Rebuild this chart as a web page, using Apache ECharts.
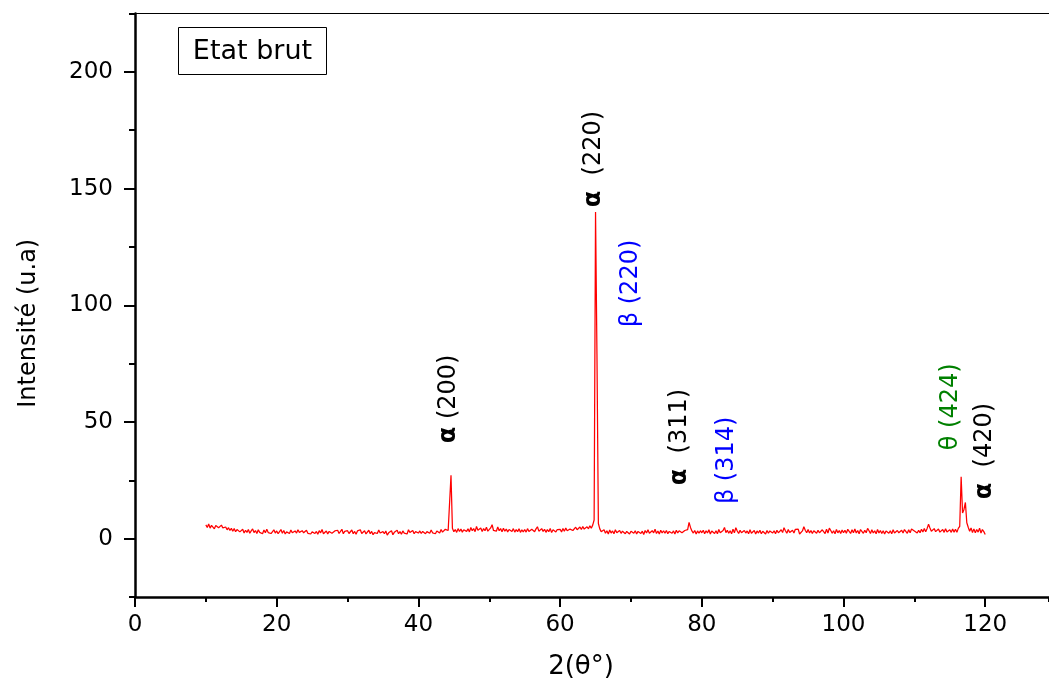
<!DOCTYPE html>
<html>
<head>
<meta charset="utf-8">
<title>Etat brut - DRX</title>
<script src="https://cdn.jsdelivr.net/npm/echarts@6/dist/echarts.min.js"></script>
<style>
  html, body { margin: 0; padding: 0; background: #ffffff; }
  #chart { width: 1049px; height: 686px; }
</style>
</head>
<body>
<div id="chart"></div>
<script>
// Diffractogram, 2θ from 10° to 120° in 0.2° steps; each row covers 5°.
const scanStart = 10;
const scanStep = 0.2;
const intensityRows = [
  [5.9,4.8,6.3,4.5,5.7,5.0,4.2,5.6,6.1,4.7,4.3,5.8,4.6,4.0,5.0,3.8,4.7,3.5,4.4,3.2,4.3,3.0,3.9,4.1,2.9],
  [3.2,4.0,2.4,3.6,2.7,3.9,2.3,3.3,4.2,2.6,3.5,2.2,3.8,2.7,3.2,2.1,3.7,2.5,4.0,2.6,3.4,2.2,3.0,3.8,2.4],
  [3.3,2.1,3.0,3.9,2.3,3.5,2.0,2.9,3.4,2.2,3.7,2.5,1.9,3.3,2.4,3.8,2.7,2.1,3.4,2.5,2.2,3.6,2.3,3.1,2.0],
  [2.9,3.7,2.2,3.1,1.9,3.4,2.5,3.9,2.1,2.9,3.3,2.0,3.1,3.8,2.3,1.9,3.3,2.5,3.6,2.2,3.0,4.0,2.1,3.1,2.3],
  [3.4,2.2,2.9,3.7,2.1,3.1,1.9,3.3,2.5,3.8,2.2,3.0,3.4,2.0,2.4,3.6,2.1,3.1,1.7,2.6,3.3,2.2,3.7,2.4,1.9],
  [3.0,2.1,3.3,1.5,2.5,2.0,3.4,1.7,2.7,2.2,3.6,2.1,3.0,1.9,3.3,2.4,3.2,2.0,3.8,2.6,2.2,3.5,2.1,3.0,3.7],
  [2.4,3.3,2.2,3.1,3.6,2.1,3.0,3.5,2.3,3.7,2.5,3.2,2.1,3.3,3.6,2.4,3.9,2.8,3.4,4.0,4.3,3.5,4.0,27.2,4.5],
  [3.0,3.9,2.7,4.3,3.1,4.1,2.8,3.8,4.5,3.1,4.2,2.9,4.8,3.4,4.3,3.0,5.2,3.6,3.3,4.6,3.1,4.3,3.4,4.9,3.2],
  [3.9,4.6,6.0,3.5,4.3,3.2,5.0,3.4,4.3,3.0,4.5,3.2,4.1,2.9,3.9,4.7,3.1,4.3,2.8,3.9,3.0,4.2,2.7,3.8,2.9],
  [3.9,2.8,4.3,3.1,2.7,4.0,4.6,3.0,4.2,5.1,3.2,2.9,4.3,3.1,4.0,2.7,3.9,3.0,4.4,2.6,3.8,4.2,2.9,3.9,3.1],
  [4.0,2.9,4.3,3.2,4.6,3.4,3.0,4.1,4.7,3.5,4.3,4.9,3.8,4.2,5.0,3.9,5.2,4.1,4.4,5.1,4.2,5.5,4.5,5.8,8.0],
  [140.0,79.0,6.5,4.2,3.0,2.5,3.8,2.3,3.4,2.0,3.7,2.4,3.3,2.1,3.8,2.5,1.9,3.5,2.3,3.2,3.7,2.1,3.1,3.6,2.0],
  [3.2,3.6,2.3,3.4,2.0,3.1,3.8,2.2,3.2,1.8,3.5,2.4,3.8,2.3,1.9,3.4,2.5,4.0,2.2,3.3,2.0,3.6,2.4,3.4,2.3],
  [3.5,2.1,3.1,3.8,2.3,3.3,2.0,3.6,2.4,3.4,3.9,2.5,2.1,3.5,2.7,3.9,7.0,4.8,3.3,2.4,3.5,2.0,3.3,2.3,3.4],
  [2.5,3.6,2.1,3.4,2.4,3.8,2.0,3.3,3.5,2.2,3.4,2.1,3.9,2.5,2.3,3.5,4.8,2.6,3.6,2.3,3.4,2.1,4.0,2.5,4.7],
  [3.3,2.2,3.6,2.5,2.0,3.5,2.4,3.3,2.1,3.8,2.3,2.5,3.5,2.0,3.3,2.4,3.6,2.1,3.2,3.4,2.0,3.5,2.3,3.3,4.0],
  [2.4,3.4,2.1,3.6,2.5,2.2,3.8,2.6,4.7,3.4,2.3,3.9,2.6,2.1,3.6,2.4,4.0,3.4,4.1,2.0,1.4,3.3,5.1,3.6,2.5],
  [3.9,2.4,3.5,2.2,3.4,4.1,2.3,3.6,2.5,2.1,3.8,3.3,2.2,4.0,2.4,4.5,3.5,2.3,3.4,2.1,3.9,2.5,3.5,2.2,3.7],
  [2.5,3.6,2.3,4.0,3.3,2.2,3.8,2.5,4.1,2.4,3.5,2.1,3.9,3.3,2.3,3.6,2.5,4.4,3.4,2.2,3.8,2.4,3.4,2.1,3.9],
  [2.4,3.5,2.2,3.4,2.0,3.3,3.7,2.3,3.4,2.1,3.8,2.4,2.2,3.5,2.5,2.1,3.6,2.4,3.9,3.3,2.3,3.8,2.5,4.1,3.4],
  [3.3,3.9,2.4,3.6,2.5,4.0,2.9,4.3,3.0,4.4,6.2,4.6,3.2,2.8,4.3,3.0,2.7,4.1,2.8,2.5,3.9,2.7,4.2,2.9,2.7],
  [3.8,2.7,4.1,2.8,4.0,2.7,4.4,5.3,26.5,11.0,12.5,15.5,6.8,4.9,3.2,4.6,2.6,4.2,2.5,3.9,2.8,4.5,2.4,3.9,3.0,1.8]
];

// Peak indexation: phase symbol, plane, and where the label starts (2θ, intensity)
const labelPhase = ['α', 'α', 'β', 'α', 'β', 'θ', 'α'];
const labelPlane = [' (200)', '  (220)', ' (220)', '  (311)', ' (314)', ' (424)', '  (420)'];
const labelAngle = [44.3, 64.7, 70.0, 76.9, 83.5, 115.2, 119.9];
const labelIntensity = [40.9, 142.0, 90.6, 22.9, 14.8, 37.9, 16.9];

// Axis ticks
const xMajorTicks = [0, 20, 40, 60, 80, 100, 120];
const yMajorTicks = [0, 50, 100, 150, 200];

const phaseColor = { 'α': '#000000', 'β': '#0000ff', 'θ': '#008000' };
const phaseKey = { 'α': 'a', 'β': 'b', 'θ': 'c' };
const FONT = 'DejaVu Sans';

const spectrum = [];
intensityRows.forEach((row, r) => {
  const rowStart = scanStart + r * 5;
  row.forEach((v, j) => {
    spectrum.push([+(rowStart + j * scanStep).toFixed(2), v]);
  });
});

const labelPoints = labelPhase.map((p, i) => ({
  value: [labelAngle[i], labelIntensity[i]],
  phase: p,
  plane: labelPlane[i]
}));

const chart = echarts.init(document.getElementById('chart'), null, { renderer: 'canvas' });

const axisBlack = { color: '#000000', width: 2.5 };

function richStyle(color, bold) {
  return { fontFamily: FONT, fontSize: 24, fontWeight: bold ? 'bold' : 'normal', color: color, opacity: 1 };
}

chart.setOption({
  animation: false,
  backgroundColor: '#ffffff',
  textStyle: { fontFamily: FONT, color: '#000000' },
  grid: { left: 135, right: 0, top: 13.5, bottom: 89, containLabel: false, outerBoundsMode: 'none' },
  xAxis: [
    {
      type: 'value', position: 'bottom', min: 0, max: 129, interval: 10,
      axisLine: { show: true, onZero: false, lineStyle: axisBlack },
      axisTick: { show: true, length: 5, lineStyle: { color: '#000000', width: 2 } },
      axisLabel: {
        show: true, customValues: xMajorTicks, margin: 17,
        fontFamily: FONT, fontSize: 23, color: '#000000',
        formatter: v => (v % 20 === 0 ? String(v) : '')
      },
      splitLine: { show: false },
      name: '2(θ°)', nameLocation: 'middle', nameGap: 57,
      nameTextStyle: { fontFamily: FONT, fontSize: 26, color: '#000000', padding: [0, 22, 0, 0] }
    },
    {
      type: 'value', position: 'bottom', min: 0, max: 129,
      axisLine: { show: false, onZero: false },
      axisTick: { show: true, customValues: xMajorTicks, length: 10, lineStyle: { color: '#000000', width: 2 } },
      axisLabel: { show: false },
      splitLine: { show: false }
    },
    {
      type: 'value', position: 'top', min: 0, max: 129,
      axisLine: { show: true, onZero: false, lineStyle: { color: '#000000', width: 1 } },
      axisTick: { show: false },
      axisLabel: { show: false },
      splitLine: { show: false }
    }
  ],
  yAxis: [
    {
      type: 'value', position: 'left', min: -25, max: 225, interval: 25,
      axisLine: { show: true, onZero: false, lineStyle: axisBlack },
      axisTick: { show: true, length: 6, lineStyle: { color: '#000000', width: 2 } },
      axisLabel: {
        show: true, customValues: yMajorTicks, margin: 22,
        fontFamily: FONT, fontSize: 23, color: '#000000',
        formatter: v => (v % 50 === 0 && v >= 0 && v <= 200 ? String(v) : '')
      },
      splitLine: { show: false },
      name: 'Intensité (u.a)', nameLocation: 'middle', nameGap: 94,
      nameTextStyle: { fontFamily: FONT, fontSize: 24, color: '#000000', padding: [0, 36, 0, 0] }
    },
    {
      type: 'value', position: 'left', min: -25, max: 225,
      axisLine: { show: false, onZero: false },
      axisTick: { show: true, customValues: yMajorTicks, length: 11, lineStyle: { color: '#000000', width: 2 } },
      axisLabel: { show: false },
      splitLine: { show: false }
    }
  ],
  graphic: [
    {
      type: 'group', left: 178, top: 27, z: 20,
      children: [
        { type: 'rect', shape: { x: 0, y: 0, width: 148, height: 47 },
          style: { fill: '#ffffff', stroke: '#000000', lineWidth: 1 } },
        { type: 'text', x: 74, y: 24,
          style: { text: 'Etat brut', font: '27px "DejaVu Sans"', fill: '#000000',
                   textAlign: 'center', textVerticalAlign: 'middle' } }
      ]
    }
  ],
  series: [
    {
      name: 'Etat brut',
      type: 'line',
      xAxisIndex: 0, yAxisIndex: 0,
      data: spectrum,
      showSymbol: false,
      symbol: 'none',
      lineStyle: { color: '#ff0000', width: 1.25 },
      z: 5
    },
    {
      name: 'indexation',
      type: 'scatter',
      xAxisIndex: 0, yAxisIndex: 0,
      data: labelPoints,
      symbolSize: 0,
      silent: true,
      z: 10,
      itemStyle: { opacity: 1 },
      label: {
        show: true,
        opacity: 1,
        position: 'inside',
        rotate: 90,
        align: 'left',
        verticalAlign: 'middle',
        formatter: p => {
          const k = phaseKey[p.data.phase];
          return '{' + k + 's|' + p.data.phase + '}{' + k + '|' + p.data.plane + '}';
        },
        rich: {
          as: richStyle(phaseColor['α'], true),
          a:  richStyle(phaseColor['α'], false),
          bs: richStyle(phaseColor['β'], false),
          b:  richStyle(phaseColor['β'], false),
          cs: richStyle(phaseColor['θ'], false),
          c:  richStyle(phaseColor['θ'], false)
        }
      }
    }
  ]
});
</script>
</body>
</html>
